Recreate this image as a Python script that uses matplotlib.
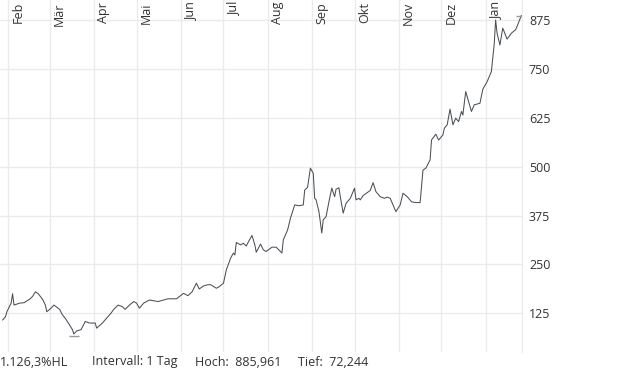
import numpy as np
import pandas as pd
import matplotlib
matplotlib.use("Agg")
import matplotlib.pyplot as plt
from matplotlib.transforms import blended_transform_factory, offset_copy

plt.rcParams['font.family'] = ['Open Sans', 'DejaVu Sans']

# Kursverlauf
dates = ["2020-01-28", "2020-01-30", "2020-01-31", "2020-02-03", "2020-02-04", "2020-02-05",
         "2020-02-09", "2020-02-12", "2020-02-16", "2020-02-18", "2020-02-20", "2020-02-22",
         "2020-02-25", "2020-02-27", "2020-02-28", "2020-03-02", "2020-03-04", "2020-03-08",
         "2020-03-10", "2020-03-12", "2020-03-15", "2020-03-17", "2020-03-18", "2020-03-20",
         "2020-03-23", "2020-03-26", "2020-03-29", "2020-04-02", "2020-04-03", "2020-04-07",
         "2020-04-13", "2020-04-15", "2020-04-18", "2020-04-21", "2020-04-23", "2020-04-26",
         "2020-04-29", "2020-05-01", "2020-05-03", "2020-05-06", "2020-05-10", "2020-05-13",
         "2020-05-16", "2020-05-20", "2020-05-23", "2020-05-29", "2020-06-03", "2020-06-06",
         "2020-06-09", "2020-06-12", "2020-06-14", "2020-06-17", "2020-06-20", "2020-06-22",
         "2020-06-26", "2020-06-28", "2020-07-01", "2020-07-03", "2020-07-06", "2020-07-08",
         "2020-07-09", "2020-07-10", "2020-07-13", "2020-07-15", "2020-07-17", "2020-07-19",
         "2020-07-21", "2020-07-23", "2020-07-24", "2020-07-27", "2020-07-29", "2020-07-31",
         "2020-08-04", "2020-08-07", "2020-08-11", "2020-08-12", "2020-08-15", "2020-08-17",
         "2020-08-20", "2020-08-23", "2020-08-26", "2020-08-27", "2020-08-29", "2020-08-31",
         "2020-09-02", "2020-09-03", "2020-09-04", "2020-09-06", "2020-09-08", "2020-09-09",
         "2020-09-11", "2020-09-13", "2020-09-15", "2020-09-17", "2020-09-18", "2020-09-20",
         "2020-09-21", "2020-09-23", "2020-09-25", "2020-09-28", "2020-10-01", "2020-10-02",
         "2020-10-04", "2020-10-05", "2020-10-07", "2020-10-10", "2020-10-12", "2020-10-14",
         "2020-10-16", "2020-10-19", "2020-10-22", "2020-10-24", "2020-10-26", "2020-10-28",
         "2020-10-30", "2020-11-02", "2020-11-04", "2020-11-07", "2020-11-10", "2020-11-13",
         "2020-11-16", "2020-11-18", "2020-11-20", "2020-11-23", "2020-11-24", "2020-11-27",
         "2020-11-29", "2020-12-02", "2020-12-03", "2020-12-05", "2020-12-07", "2020-12-09",
         "2020-12-11", "2020-12-13", "2020-12-15", "2020-12-16", "2020-12-18", "2020-12-20",
         "2020-12-22", "2020-12-24", "2020-12-28", "2020-12-30", "2021-01-02", "2021-01-05",
         "2021-01-07", "2021-01-08", "2021-01-09", "2021-01-11", "2021-01-13", "2021-01-14",
         "2021-01-16", "2021-01-19", "2021-01-22", "2021-01-23", "2021-01-26"]
prices = [108, 116, 129, 151, 175, 146,
          151, 152, 161, 168, 180, 175,
          161, 146, 129, 138, 146, 135,
          121, 112, 95, 83, 72, 80,
          83, 104, 100, 100, 87, 100,
          125, 135, 146, 142, 135, 146,
          155, 151, 138, 151, 159, 157,
          155, 159, 162, 162, 176, 170,
          180, 202, 187, 195, 198, 198,
          189, 193, 202, 236, 266, 279,
          274, 306, 300, 304, 297, 311,
          324, 300, 281, 302, 287, 283,
          294, 294, 279, 313, 338, 368,
          402, 400, 402, 440, 447, 496,
          483, 419, 415, 385, 330, 364,
          372, 410, 445, 423, 442, 446,
          423, 381, 406, 419, 445, 415,
          419, 415, 426, 434, 439, 459,
          436, 423, 419, 422, 419, 402,
          385, 402, 432, 423, 410, 408,
          408, 491, 496, 517, 568, 583,
          568, 581, 598, 607, 647, 607,
          624, 615, 641, 632, 692, 666,
          641, 658, 662, 698, 717, 743,
          813, 875, 841, 811, 854, 845,
          826, 841, 850, 858, 886]

y_ticks = [125, 250, 375, 500, 625, 750, 875]
month_names = ["Feb", "Mär", "Apr", "Mai", "Jun", "Jul", "Aug", "Sep", "Okt", "Nov", "Dez", "Jan"]
month_starts = pd.date_range("2020-02-01", "2021-01-01", freq="MS")

hoch = 885.961
tief = 72.244
footer = ["1.126,3%HL", "Intervall: 1 Tag", "Hoch:  885,961", "Tief:  72,244"]

x = pd.to_datetime(dates)

fig = plt.figure(figsize=(6.2, 3.72), dpi=100)
ax = fig.add_axes([0, 20 / 372, 522 / 620, 352 / 372])

grid_c = '#ebebeb'
ax.plot(x, prices, color='#4a5057', lw=0.75, zorder=3)

# Hoch/Tief-Markierungen
i_lo = int(np.argmin(prices))
i_hi = int(np.argmax(prices))
half = pd.Timedelta(days=3.5)
ax.hlines(tief - 5, x[i_lo] - half, x[i_lo] + half, color='#999999', lw=1, zorder=4)
ax.hlines(hoch, x[i_hi] - half, x[i_hi] + half, color='#999999', lw=1, zorder=4)

ax.set_xlim(pd.Timestamp("2020-01-26 04:00"), pd.Timestamp("2021-01-26 12:00"))
ax.set_ylim(26, 926)

ax.set_yticks(y_ticks)
ax.set_xticks(month_starts)
ax.grid(True, color=grid_c, lw=1)
ax.set_axisbelow(True)
ax.tick_params(axis='both', length=0)
ax.set_xticklabels([])
ax.yaxis.tick_right()
ax.set_yticklabels([str(v) for v in y_ticks], fontsize=9, color='#333333')
ax.tick_params(axis='y', pad=5)
for s in ['top', 'left', 'bottom']:
    ax.spines[s].set_visible(False)
ax.spines['right'].set_color(grid_c)

# Monatsbeschriftung oben, gedreht
trans = blended_transform_factory(ax.transData, ax.transAxes)
trans = offset_copy(trans, fig=fig, x=10, y=-2, units='dots')
for d, name in zip(month_starts, month_names):
    ax.text(d, 1, name, transform=trans, rotation=90, ha='center', va='top',
            fontsize=9, color='#333333')

# Fußzeile
xs = [0, 92, 195, 298]
for px, t in zip(xs, footer):
    fig.text(px / 620, 10 / 372, t, ha='left', va='center', fontsize=9, color='#333333')

fig.savefig("out.png", dpi=100)
